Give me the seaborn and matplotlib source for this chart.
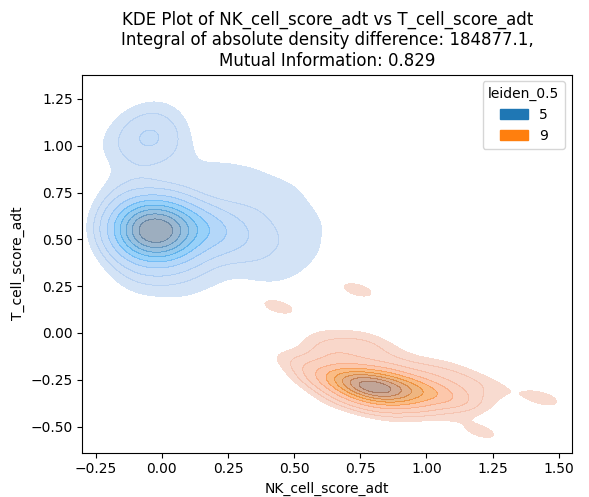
import pandas as pd
import matplotlib.pyplot as plt
import seaborn as sns

# cluster 5 : points (NK score, T score) with cell counts
nk_5 = [-0.03,
        -0.09, 0.03, -0.03, -0.03, -0.08, 0.02, -0.08, 0.02,
        -0.15, 0.09, -0.03, -0.03, -0.12, 0.06, -0.12, 0.06,
        0.15, 0.15, 0.21, 0.27, 0.33, 0.14, 0.22,
        -0.18, -0.18, -0.10, 0.04, -0.08, 0.04, 0.12, -0.15, 0.20,
        0.30, 0.38, 0.46, 0.54, 0.52, 0.44, 0.36, 0.28, 0.36, 0.46, 0.22,
        0.12, 0.30, 0.42, 0.56, 0.14, 0.00, -0.12, -0.18, 0.06, 0.16,
        0.40, 0.50, 0.58, 0.62, 0.26, 0.36, 0.50, 0.20, 0.08, -0.08,
        -0.04, -0.11, 0.03, -0.05, -0.04, -0.13, 0.04, -0.16, -0.08, -0.02,
        -0.14, -0.19]
t_5 = [0.54,
       0.54, 0.55, 0.60, 0.48, 0.59, 0.49, 0.49, 0.60,
       0.54, 0.56, 0.66, 0.42, 0.63, 0.64, 0.45, 0.46,
       0.56, 0.50, 0.55, 0.53, 0.55, 0.63, 0.62,
       0.46, 0.62, 0.72, 0.73, 0.36, 0.36, 0.40, 0.36, 0.44,
       0.42, 0.46, 0.50, 0.56, 0.44, 0.62, 0.66, 0.74, 0.78, 0.74, 0.84,
       0.82, 0.34, 0.36, 0.66, 0.30, 0.27, 0.28, 0.74, 0.92, 0.94,
       0.30, 0.34, 0.44, 0.58, 0.88, 0.86, 0.78, 0.28, 0.22, 0.25,
       1.04, 1.02, 1.06, 1.12, 0.96, 1.12, 1.16, 0.96, 0.86, 1.20,
       0.82, 1.00]
n_5 = [40,
       22, 24, 22, 20, 18, 18, 16, 20,
       10, 14, 10, 8, 8, 10, 7, 9,
       12, 6, 9, 7, 4, 5, 3,
       2, 2, 4, 4, 4, 4, 3, 2, 3,
       3, 3, 3, 2.5, 2, 3, 3, 3, 2.5, 2.5, 2,
       2, 2, 2, 2, 2, 3, 1.5, 2, 2, 1.5,
       2.5, 2.5, 2, 1.5, 2, 2, 2, 2, 2.5, 2,
       8, 4, 4, 4, 4, 2, 2, 2, 3, 2.5,
       2, 2]

# cluster 9
nk_9 = [0.80, 0.74, 0.86, 0.78, 0.82, 0.92, 0.68, 0.98, 0.88, 0.72,
        1.04, 0.62, 0.94, 1.00, 1.10, 0.84, 0.70, 0.58, 1.16, 1.08,
        0.80, 0.66, 1.14, 0.54, 0.60, 0.72, 0.86, 0.98, 1.22, 1.02,
        0.48, 1.26, 0.90, 1.08, 0.62, 0.76, 0.68, 0.66, 0.80, 1.20, 1.10,
        0.74, 0.44, 1.21, 1.44]
t_9 = [-0.29, -0.28, -0.30, -0.25, -0.34, -0.30, -0.26, -0.31, -0.25, -0.33,
       -0.32, -0.22, -0.37, -0.25, -0.34, -0.20, -0.19, -0.26, -0.38, -0.40,
       -0.40, -0.36, -0.28, -0.17, -0.12, -0.10, -0.12, -0.18, -0.34, -0.44,
       -0.14, -0.28, -0.44, -0.18, -0.06, -0.05, -0.13, -0.02, -0.04, -0.26,
       -0.22,
       0.23, 0.14, -0.53, -0.35]
n_9 = [40, 22, 22, 16, 16, 16, 12, 12, 12, 10,
       9, 7, 8, 6, 6, 7, 6, 4, 1.5, 2,
       5, 3, 3, 3, 3, 3, 3, 3, 2, 1.2,
       2, 1.5, 1.5, 2, 3, 3, 4, 2, 2, 2,
       2,
       4.5, 4.5, 4.2, 4.5]

df = pd.DataFrame({
    'NK_cell_score_adt': nk_5 + nk_9,
    'T_cell_score_adt': t_5 + t_9,
    'count': n_5 + n_9,
    'leiden_0.5': ['5'] * len(nk_5) + ['9'] * len(nk_9),
})

fig = plt.figure(figsize=(5.89, 4.97), dpi=100)
ax = fig.add_subplot(111)
fig.subplots_adjust(left=0.14, right=0.971, top=0.850, bottom=0.089)

sns.kdeplot(data=df, x='NK_cell_score_adt', y='T_cell_score_adt',
            hue='leiden_0.5', weights='count', fill=True, alpha=0.5,
            bw_method=0.45, thresh=0.07, ax=ax)

ax.set_xlim(-0.30, 1.55)
ax.set_ylim(-0.64, 1.38)
ax.set_title('KDE Plot of NK_cell_score_adt vs T_cell_score_adt\n'
             'Integral of absolute density difference: 184877.1,\n'
             'Mutual Information: 0.829')

plt.savefig('out.png', dpi=100)
plt.close()
